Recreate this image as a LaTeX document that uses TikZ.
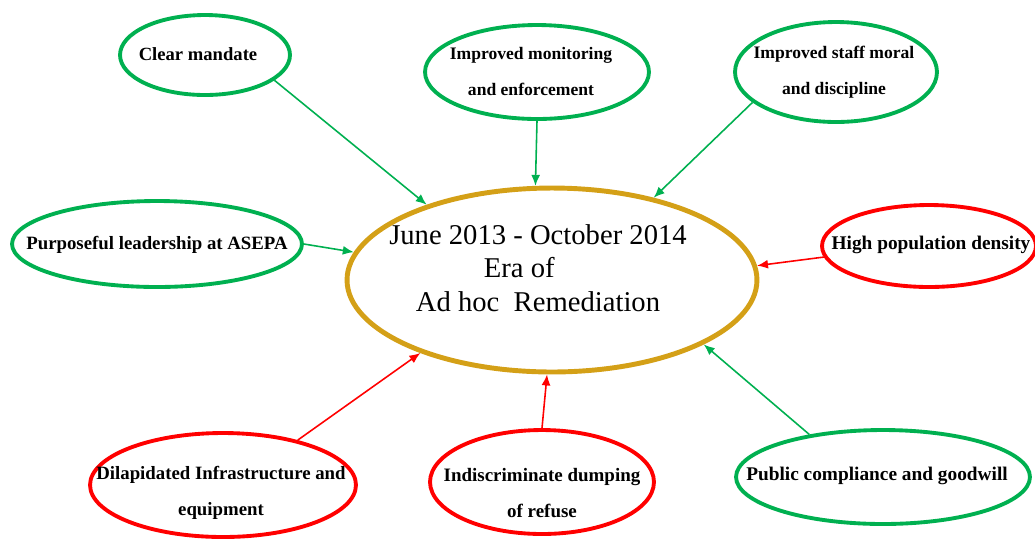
\documentclass[tikz,border=0pt]{standalone}
\usepackage{fontspec}
\setmainfont{Liberation Serif}
\usetikzlibrary{shapes.geometric,arrows.meta}
\definecolor{okgreen}{RGB}{0,176,80}
\definecolor{badred}{RGB}{255,0,0}
\definecolor{eragold}{RGB}{212,160,23}

\begin{document}
\begin{tikzpicture}[x=0.02cm,y=-0.02cm,
  bubble/.style={ellipse,draw,line width=2.2pt,inner sep=0pt},
  good/.style={bubble,draw=okgreen},
  bad/.style={bubble,draw=badred},
  lbl/.style={align=center,font=\bfseries\fontsize{#1}{20.5}\selectfont},
  lbl/.default=10.5,
  goodarr/.style={-{Latex[length=2.2mm,width=1.8mm]},okgreen,line width=0.9pt},
  badarr/.style={-{Latex[length=2.2mm,width=1.8mm]},badred,line width=0.9pt}]
\useasboundingbox (0,0) rectangle (1035,539);

\node[bubble,draw=eragold,line width=2.8pt,minimum width=8.2cm,minimum height=3.68cm] (era) at (552,280) {};
\node[align=center,font=\fontsize{16.3}{19}\selectfont] (eraT) at (538,268) {June 2013 - October 2014\\Era of\hbox to 0.75cm{}\\Ad hoc\ \ Remediation};

\node[good,minimum width=3.4cm,minimum height=1.6cm] (mandate) at (205,55) {};
\node[lbl=10.6] (mandateT) at (198,54) {Clear mandate};
\node[good,minimum width=4.48cm,minimum height=1.88cm] (monitor) at (537,72) {};
\node[lbl=10] (monitorT) at (531,71) {Improved monitoring\\and enforcement};
\node[good,minimum width=4.04cm,minimum height=2cm] (staff) at (836,72) {};
\node[lbl=10] (staffT) at (834,72) {Improved staff moral\\and discipline};
\node[good,minimum width=5.8cm,minimum height=1.72cm] (lead) at (157,244) {};
\node[lbl=10.7] (leadT) at (157,245) {Purposeful leadership at ASEPA};
\node[bad,minimum width=4.28cm,minimum height=1.64cm] (density) at (929,246) {};
\node[lbl=11] (densityT) at (931,245) {High population density};
\node[bad,minimum width=5.32cm,minimum height=2.08cm] (infra) at (223,485) {};
\node[lbl=10.7] (infraT) at (221,493) {Dilapidated Infrastructure and\\equipment};
\node[bad,minimum width=4.48cm,minimum height=2.08cm] (dump) at (542,482) {};
\node[lbl=10.8] (dumpT) at (542,493) {Indiscriminate dumping\\of refuse};
\node[good,minimum width=5.88cm,minimum height=1.88cm] (public) at (883,477) {};
\node[lbl=11] (publicT) at (877,476) {Public compliance and goodwill};

\draw[goodarr] (mandate.340) -- (era.149);
\draw[goodarr] (monitor.270) -- (era.100);
\draw[goodarr] (staff.200) -- (era.39);
\draw[goodarr] (lead.0) -- (era.172);
\draw[badarr] (density.186) -- (era.4);
\draw[badarr] (infra.31) -- (era.209);
\draw[badarr] (dump.90) -- (era.267);
\draw[goodarr] (public.150) -- (era.337);
\end{tikzpicture}
\end{document}
